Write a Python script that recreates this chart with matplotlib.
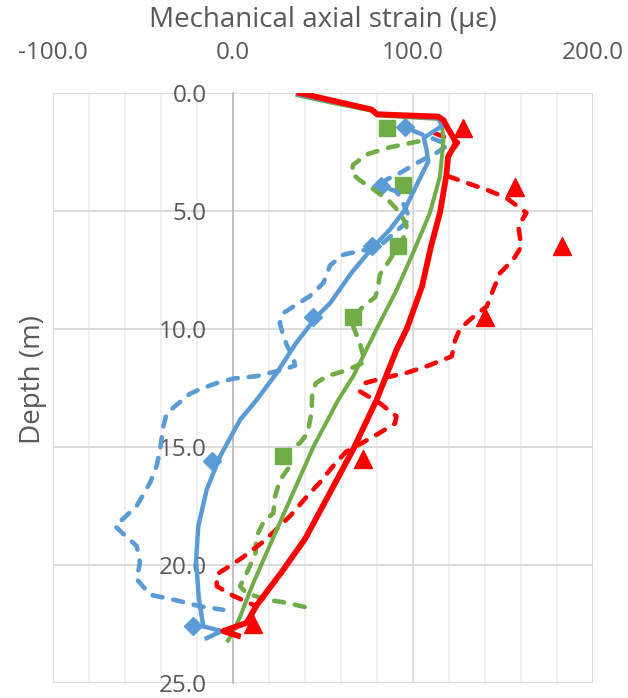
import numpy as np
import matplotlib.pyplot as plt
from matplotlib.ticker import MultipleLocator, FormatStrFormatter

plt.rcParams['font.family'] = ['Open Sans', 'DejaVu Sans']

BLUE = '#5B9BD5'
GREEN = '#70AD47'
RED = '#FF0000'
TEXT = '#595959'

#-- solid lines (strain, depth)
blue_x = [36, 54, 77, 80, 114, 116, 106, 107.5, 108.5, 102, 95, 87, 77, 66, 54, 46.5, 35,
          24.3, 13.2, 4, -7.2, -14.6, -19.3, -20.5, -19, -16.5, -6.3, -14.6]
blue_d = [0.05, 0.35, 0.7, 0.9, 1.05, 1.4, 1.9, 2.4, 2.9, 3.9, 5.0, 5.8, 6.6, 7.6, 8.9, 9.47, 10.6,
          11.86, 13.0, 13.84, 15.4, 16.8, 18.36, 19.8, 21.4, 22.6, 22.8, 23.1]

green_x = [36, 54, 77, 80, 114, 116, 116.9, 115, 109.4, 100, 91, 79.8, 66.8, 58.5, 44.6,
           31.3, 16.8, 10, 3.9, -0.7, -2.8]
green_d = [0.1, 0.4, 0.75, 0.95, 1.1, 1.3, 2.0, 3.53, 5.08, 6.78, 8.33, 10.0, 12.0, 13.0, 15.0,
           17.3, 19.8, 21.0, 22.2, 22.95, 23.2]

red_x = [37, 54, 77, 80, 114, 117, 119, 124, 119.5, 118.5, 115, 110, 105, 96.5, 90.9, 79.8,
         66.8, 52, 40, 27, 13.2, 7.6, -5.4, 2.8]
red_d = [0, 0.3, 0.7, 0.9, 1.0, 1.15, 1.45, 2.1, 2.7, 3.5, 5.07, 6.5, 8.2, 10.0, 10.87, 13.0,
         15.1, 17.2, 18.9, 20.3, 21.7, 22.45, 22.8, 23.0]

#-- dashed lines
blue_dash_x = [100, 119.6, 113, 103.7, 92.8, 85.2, 82.6, 90.8, 93.5, 97, 98.5, 96, 83.4, 74,
               61.3, 54, 50.2, 42.8, 28, 26, 28, 30, 33.5, 34.5, 28, 13, 0.2, -9, -18.3, -24,
               -36.8, -38.7, -40.5, -42.4, -46, -53.5, -65.5, -53.5, -51.7, -53.5, -46, -31.3,
               -18.3, -5.4]
blue_dash_d = [1.6, 2.19, 2.54, 2.9, 3.39, 3.67, 3.96, 4.17, 4.5, 5.1, 5.3, 5.5, 6.36, 6.64,
               6.85, 7.3, 8.05, 8.6, 9.32, 9.75, 10.3, 10.7, 11.2, 11.55, 11.72, 12.0, 12.1,
               12.29, 12.55, 12.75, 13.56, 14.13, 15.1, 15.8, 16.5, 17.5, 18.36, 19.2, 19.9,
               20.6, 21.26, 21.5, 21.75, 21.9]

green_dash_x = [103, 87.2, 74.3, 66.8, 65.8, 70.5, 79.7, 87, 92.8, 96.3, 96.3, 87.2, 81.6, 80.5,
                79, 72.4, 66.8, 66.8, 70.5, 73.3, 63.1, 52, 46, 44, 43.7, 41.5, 37.2, 29.8, 31.7,
                26.1, 23.3, 22.4, 16.8, 13, 12.5, 8.5, 3.9, 7.6, 18.7, 29.8, 41]
green_dash_d = [2.05, 2.3, 2.6, 3.04, 3.39, 3.7, 4.17, 4.6, 5.08, 5.6, 5.93, 7.06, 7.7, 8.3,
                8.65, 9.04, 9.5, 9.9, 10.6, 11.4, 11.75, 12.0, 12.3, 12.7, 13.5, 14.4, 14.83,
                15.19, 15.8, 16.4, 17.1, 17.8, 18.2, 18.8, 19.5, 20.2, 20.9, 21.2, 21.47, 21.6,
                21.8]

red_dash_x = [112, 125, 119.6, 118.6, 129.8, 141, 152, 163, 158.5, 160.2, 155.7, 148.3, 144.6,
              141, 131.7, 126, 123.3, 121.5, 107.6, 96.3, 83.5, 73.3, 70.4, 81.5, 90.8, 90,
              81.5, 72.4, 63, 55.7, 48.3, 41, 32, 24, 17, 5, -9, -9, 0, 13]
red_dash_d = [1.7, 2.1, 2.7, 3.5, 3.81, 4.1, 4.45, 5.08, 5.65, 6.5, 7.06, 7.63, 8.33, 9.04,
              9.6, 10.0, 10.5, 11.16, 11.58, 11.86, 12.08, 12.29, 12.64, 13.14, 13.7, 14.0,
              14.4, 14.8, 15.19, 15.8, 16.5, 17.1, 17.9, 18.5, 19.0, 19.7, 20.4, 20.9, 21.3,
              21.75]

#-- measured points
diam_x = [95.5, 82.2, 77, 44.6, -11.8, -22]
diam_d = [1.45, 3.95, 6.5, 9.5, 15.6, 22.6]
sq_x = [85.4, 94.6, 91.8, 66.8, 28]
sq_d = [1.5, 3.9, 6.5, 9.5, 15.4]
tri_x = [128, 156.7, 182.6, 140, 72.4, 11.3]
tri_d = [1.5, 4.0, 6.5, 9.5, 15.5, 22.5]

fig = plt.figure(figsize=(6.28, 6.98), dpi=100)
ax = fig.add_axes([53/628, 1 - 683/698, 540/628, 590/698])

ax.set_xlim(-100, 200)
ax.set_ylim(25, 0)

ax.xaxis.set_major_locator(MultipleLocator(100))
ax.xaxis.set_minor_locator(MultipleLocator(20))
ax.yaxis.set_major_locator(MultipleLocator(5))
ax.xaxis.set_major_formatter(FormatStrFormatter('%.1f'))
ax.yaxis.set_major_formatter(FormatStrFormatter('%.1f'))
ax.xaxis.tick_top()

ax.grid(which='major', color='#D9D9D9', lw=1.3, zorder=0)
ax.grid(which='minor', axis='x', color='#EEEEEE', lw=1.3, zorder=0)
ax.set_axisbelow(True)

for s in ['top', 'right', 'bottom']:
    ax.spines[s].set_visible(False)
ax.spines['left'].set_position(('data', 0))
ax.spines['left'].set_color('#BFBFBF')
ax.spines['left'].set_linewidth(1.3)

ax.tick_params(which='both', length=0, labelsize=17.5, labelcolor=TEXT)
ax.tick_params(axis='x', pad=20)
ax.tick_params(axis='y', pad=19)

#-- markers first, lines drawn over them
ax.plot(diam_x, diam_d, 'D', color=BLUE, ms=8.8, zorder=2)
ax.plot(sq_x, sq_d, 's', color=GREEN, ms=11.5, zorder=2)
ax.plot(tri_x, tri_d, '^', color=RED, ms=13, zorder=2)

for xs, ds, c in [(blue_dash_x, blue_dash_d, BLUE),
                  (green_dash_x, green_dash_d, GREEN),
                  (red_dash_x, red_dash_d, RED)]:
    ln, = ax.plot(xs, ds, color=c, lw=3.3, zorder=3,
                  dash_capstyle='round', solid_joinstyle='round')
    ln.set_dashes((2.2, 2.4))

ax.plot(green_x, green_d, color=GREEN, lw=2.9, zorder=4, solid_joinstyle='round')
ax.plot(blue_x, blue_d, color=BLUE, lw=3.2, zorder=5, solid_joinstyle='round')
ax.plot(red_x, red_d, color=RED, lw=4.2, zorder=6, solid_joinstyle='round')

fig.text(323/628, 1 - 20/698, 'Mechanical axial strain (µε)', ha='center', va='center',
         fontsize=20, color=TEXT)
fig.text(33/628, 1 - 380/698, 'Depth (m)', ha='center', va='center', rotation=90,
         fontsize=20, color=TEXT)

fig.savefig('out.png', dpi=100)
